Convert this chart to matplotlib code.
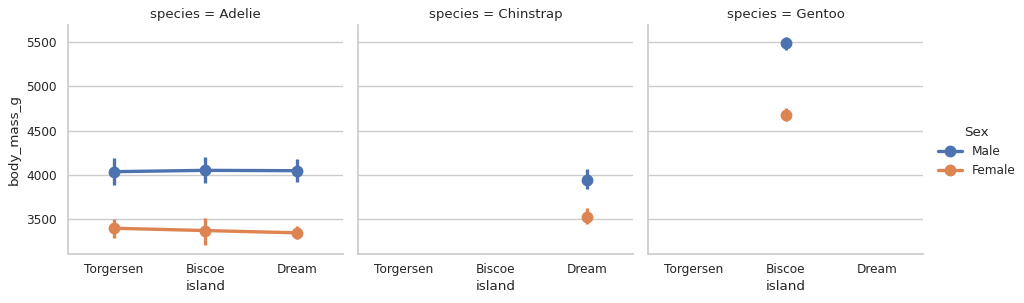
import matplotlib
matplotlib.use("Agg")
import matplotlib.pyplot as plt
import seaborn as sns

sns.set_theme(style="whitegrid")
plt.rcParams['font.family'] = ['DejaVu Sans']

# data (means and 95% CI per island)
species = ["Adelie", "Chinstrap", "Gentoo"]
islands = ["Torgersen", "Biscoe", "Dream"]
sexes = ["Male", "Female"]

# means; None where the species has no birds on that island
male_mean = {
    "Adelie": [4035, 4050, 4046],
    "Chinstrap": [None, None, 3939],
    "Gentoo": [None, 5485, None],
}
male_lo = {
    "Adelie": [3890, 3910, 3920],
    "Chinstrap": [None, None, 3840],
    "Gentoo": [None, 5410, None],
}
male_hi = {
    "Adelie": [4190, 4200, 4175],
    "Chinstrap": [None, None, 4060],
    "Gentoo": [None, 5560, None],
}
female_mean = {
    "Adelie": [3396, 3370, 3344],
    "Chinstrap": [None, None, 3527],
    "Gentoo": [None, 4680, None],
}
female_lo = {
    "Adelie": [3290, 3210, 3270],
    "Chinstrap": [None, None, 3440],
    "Gentoo": [None, 4610, None],
}
female_hi = {
    "Adelie": [3500, 3510, 3420],
    "Chinstrap": [None, None, 3620],
    "Gentoo": [None, 4750, None],
}

colors = sns.color_palette("deep")[:2]
series = [
    (male_mean, male_lo, male_hi),
    (female_mean, female_lo, female_hi),
]

fig, axes = plt.subplots(1, 3, figsize=(10.24, 3.03), dpi=100, sharey=True)
fig.subplots_adjust(left=68/1024, right=923/1024, top=1-25/303,
                    bottom=1-254/303, wspace=0.055)

handles = []
for ax, sp in zip(axes, species):
    for (mean, lo, hi), col, sex in zip(series, colors, sexes):
        xs = [i for i, v in enumerate(mean[sp]) if v is not None]
        ys = [mean[sp][i] for i in xs]
        for i in xs:
            ax.plot([i, i], [lo[sp][i], hi[sp][i]], color=col, lw=2.4,
                    solid_capstyle="butt", zorder=2)
        h, = ax.plot(xs, ys, color=col, lw=2.4, marker="o", ms=7.5,
                     label=sex, zorder=3)
        if sp == "Adelie":
            handles.append(h)
    ax.set_xticks(range(len(islands)))
    ax.set_xticklabels(islands, fontsize=8.7)
    ax.set_xlim(-0.5, 2.5)
    ax.set_ylim(3105, 5692)
    ax.set_yticks([3500, 4000, 4500, 5000, 5500])
    ax.tick_params(axis="y", labelsize=8.7, length=0, pad=8)
    ax.tick_params(axis="x", length=0, pad=6.5)
    ax.grid(False, axis="x")
    ax.set_xlabel("island", fontsize=9.7, labelpad=3)
    ax.set_title(f"species = {sp}", fontsize=9.5, pad=5)
    for side in ["top", "right"]:
        ax.spines[side].set_visible(False)
    ax.spines["left"].set_color("#cccccc")
    ax.spines["bottom"].set_color("#cccccc")

axes[0].set_ylabel("body_mass_g", fontsize=9.7, labelpad=4)

fig.legend(handles=handles, labels=sexes, title="Sex", loc="center left",
           bbox_to_anchor=(0.905, 0.5), frameon=False, fontsize=8.7,
           title_fontsize=9.7, handlelength=2)

fig.savefig("out.png", dpi=100)
